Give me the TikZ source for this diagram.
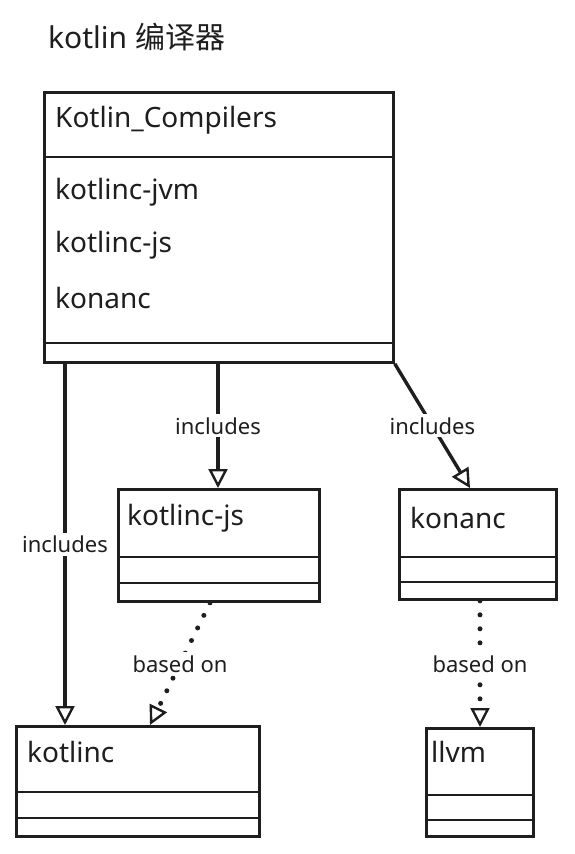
\documentclass[tikz,border=0pt]{standalone}
\usepackage{fontspec}
\setmainfont{Noto Sans}
\newfontfamily\cjkfont{Noto Sans CJK SC}
\usetikzlibrary{positioning,arrows.meta,calc}
\definecolor{inkblack}{HTML}{1E1E1E}

\begin{document}
\begin{tikzpicture}[
  x=1pt,y=-1pt,
  font=\fontsize{28}{32}\selectfont,
  classbox/.style={rectangle,draw=inkblack,line width=2.8pt,anchor=north west,inner sep=0pt},
  classtext/.style={anchor=west,text=inkblack,inner sep=0pt},
  divider/.style={draw=inkblack,line width=1.8pt},
  incl/.style={-{Triangle[open,length=19pt,width=19pt,line width=2.4pt]},line width=3.4pt,inkblack},
  based/.style={-{Triangle[open,length=19pt,width=19pt,line width=2.4pt]},line width=5pt,line cap=round,dash pattern=on 0pt off 14pt,inkblack},
  rellabel/.style={font=\fontsize{22}{26}\selectfont,text=inkblack,fill=white,inner sep=3pt},
]
\useasboundingbox[fill=white] (0,0) rectangle (575,854);

% Title
\node[classtext,font=\fontsize{30}{34}\selectfont] (title) at (48,37) {kotlin {\cjkfont 编译器}};

% Class boxes
\node[classbox,minimum width=349pt,minimum height=270pt] (compilers) at (43,91)  {};
\node[classbox,minimum width=201pt,minimum height=112pt] (kotlincjs) at (117,488) {};
\node[classbox,minimum width=157pt,minimum height=110pt] (konanc)    at (398,488) {};
\node[classbox,minimum width=243pt,minimum height=110pt] (kotlinc)   at (15,725)  {};
\node[classbox,minimum width=107pt,minimum height=108pt] (llvm)      at (425,727) {};

% Compartment lines
\foreach \cls/\ya/\yb in {compilers/66/252,kotlincjs/69/95,konanc/69/94,kotlinc/67/93,llvm/68/93}{
  \draw[divider] ([yshift=-\ya pt]\cls.north west) -- ([yshift=-\ya pt]\cls.north east);
  \draw[divider] ([yshift=-\yb pt]\cls.north west) -- ([yshift=-\yb pt]\cls.north east);
}

% Class texts
\node[classtext] (compname) at (55,120)  {Kotlin\_Compilers};
\node[classtext] (itemjvm)  at (55,192)  {kotlinc-jvm};
\node[classtext] (itemjs)   at (55,245)  {kotlinc-js};
\node[classtext] (itemkn)   at (55,298)  {konanc};
\node[classtext] (jsname)   at (127,518) {kotlinc-js};
\node[classtext] (knname)   at (410,518) {konanc};
\node[classtext] (ktname)   at (27,752)  {kotlinc};
\node[classtext] (llname)   at (431,752) {llvm};

% includes
\draw[incl] ([xshift=22pt]compilers.south west) -- node[rellabel]{includes} ([xshift=50pt]kotlinc.north west);
\draw[incl] ([xshift=175pt]compilers.south west) -- node[rellabel]{includes} ([xshift=101pt]kotlincjs.north west);
\draw[incl] (compilers.south east) -- node[rellabel]{includes} ([xshift=72pt]konanc.north west);

% based on
\draw[based] ([xshift=93pt]kotlincjs.south west) -- node[rellabel]{based on} ([xshift=135pt]kotlinc.north west);
\draw[based] ([xshift=82pt]konanc.south west) -- node[rellabel]{based on} ([xshift=55pt]llvm.north west);
\end{tikzpicture}
\end{document}
